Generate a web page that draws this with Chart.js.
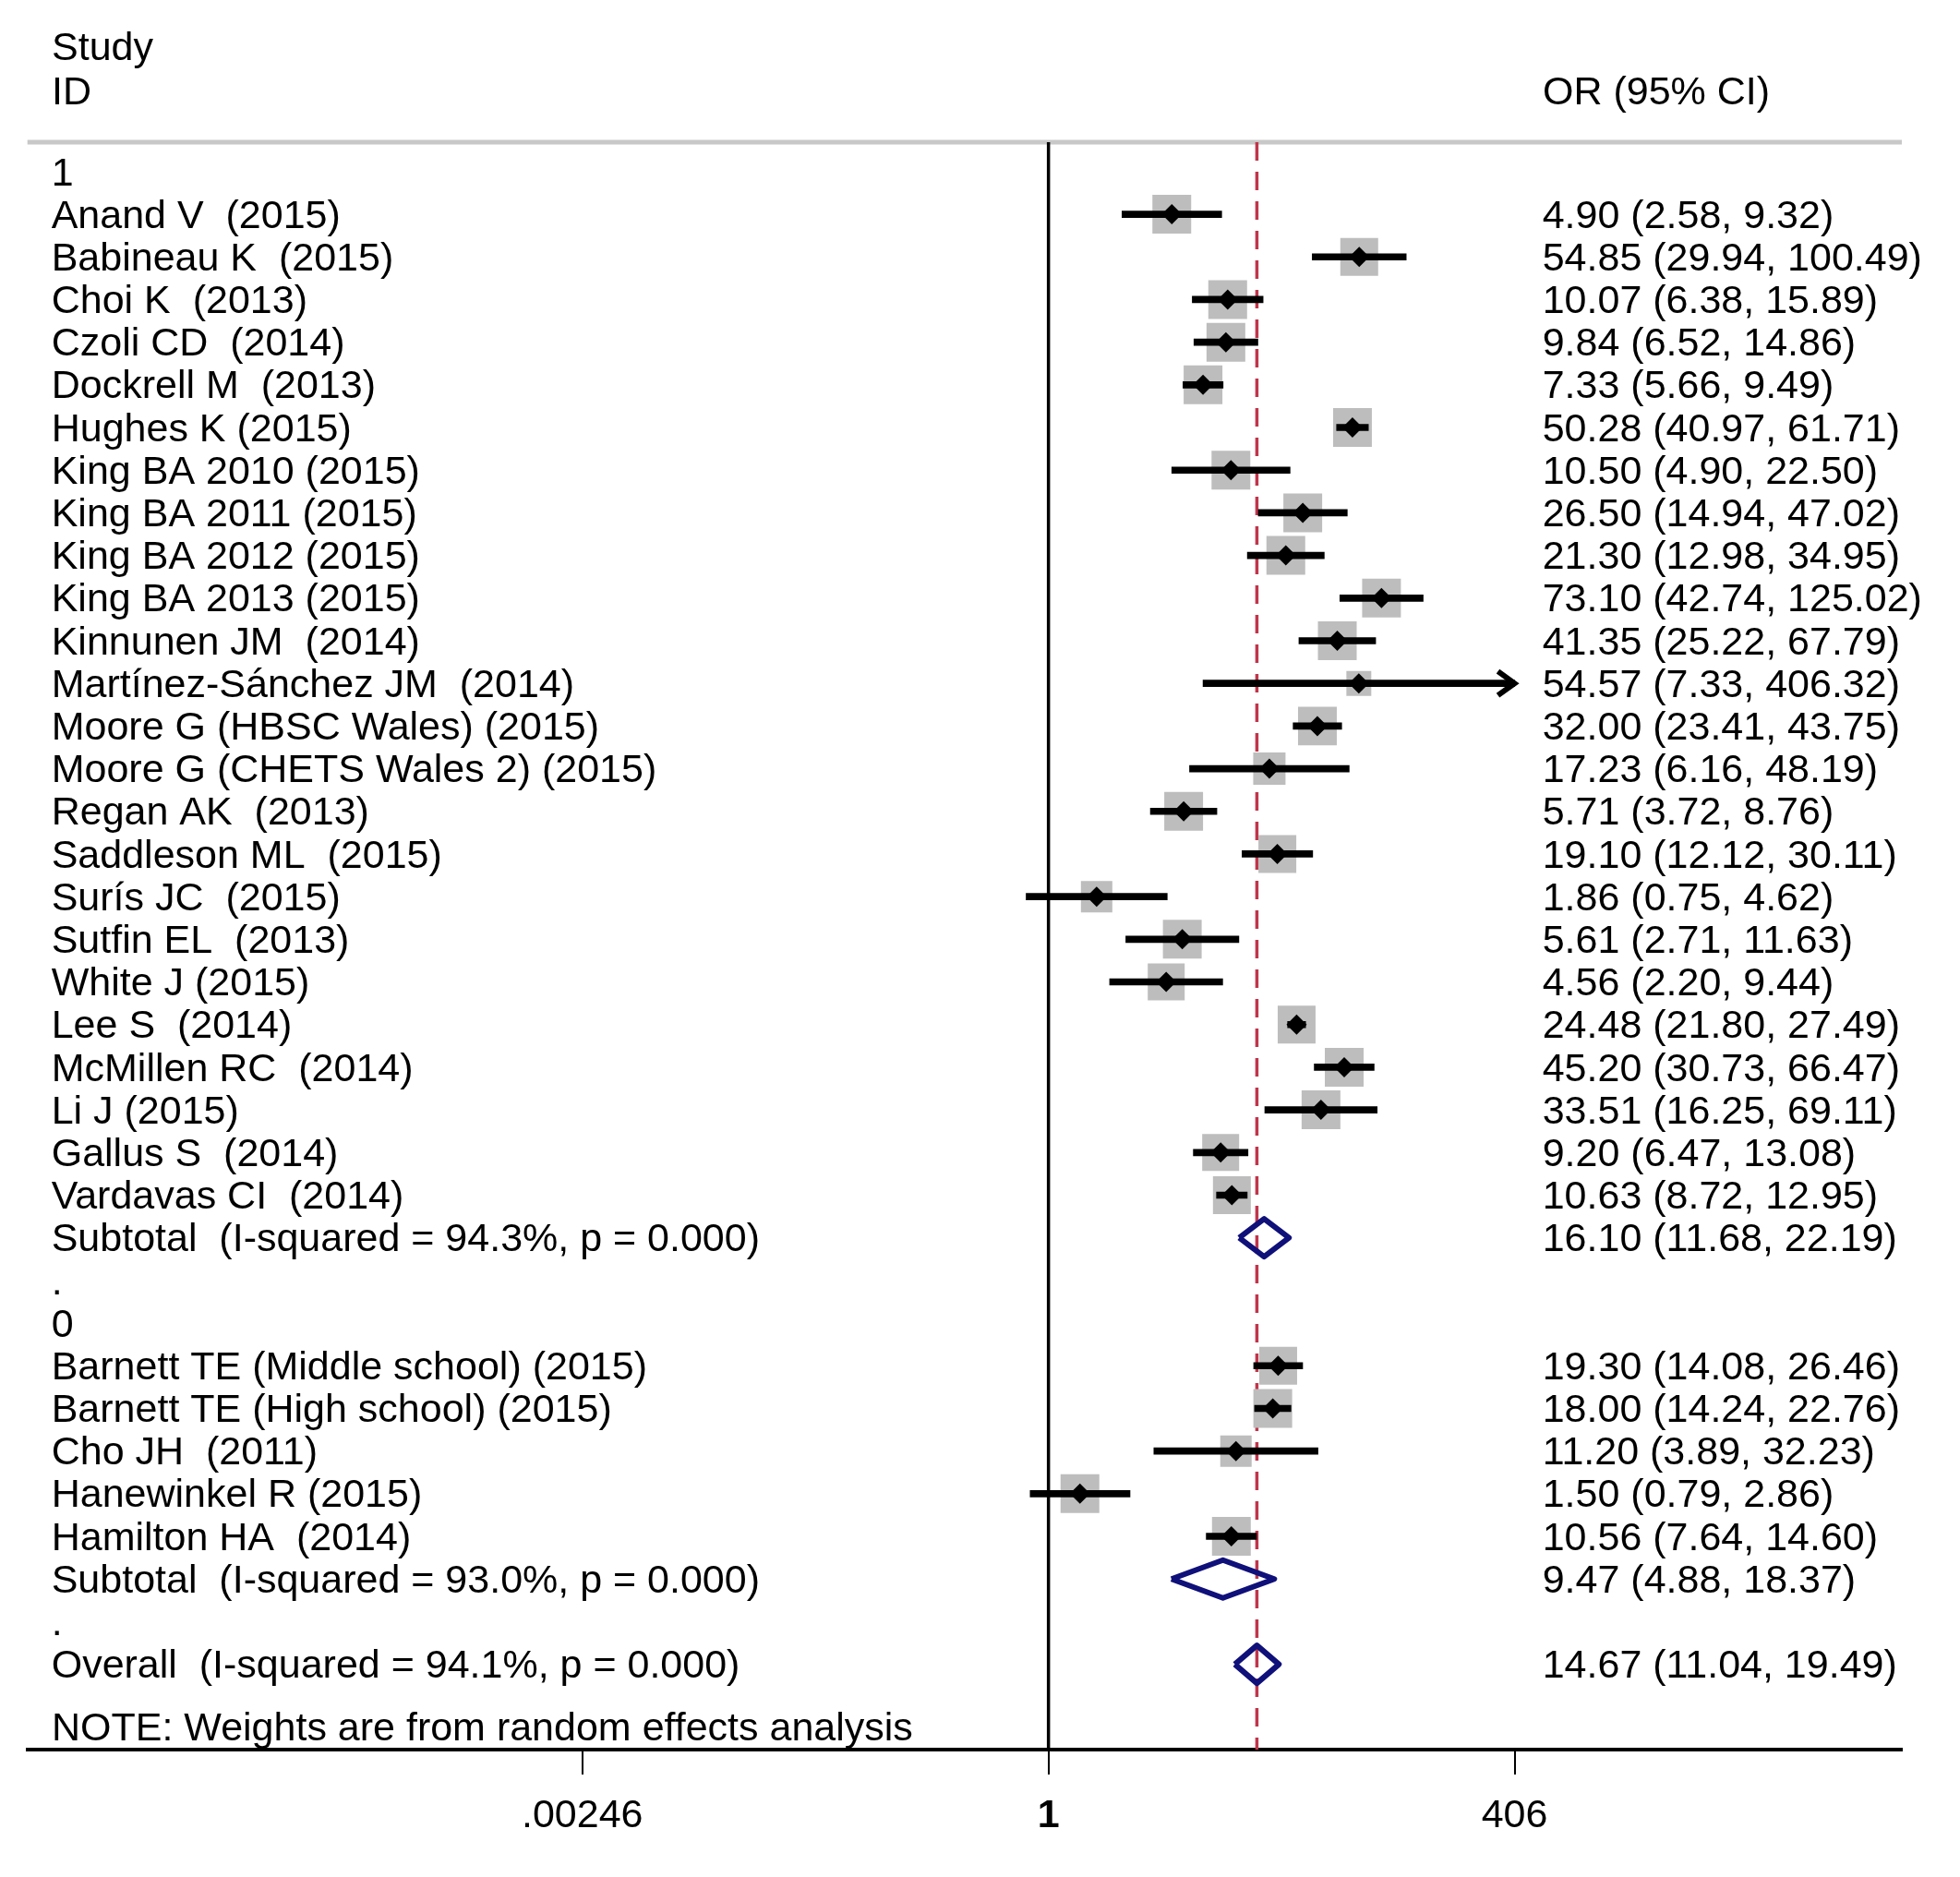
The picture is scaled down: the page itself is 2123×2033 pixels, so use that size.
<!DOCTYPE html>
<html>
<head>
<meta charset="utf-8">
<title>Forest plot</title>
<script src="https://cdn.jsdelivr.net/npm/chart.js@4.4.1/dist/chart.umd.min.js"></script>
<style>
    html, body { margin: 0; padding: 0; background: #fff; overflow: hidden; }
    #wrap { width: 2123px; height: 2033px; position: relative; }
</style>
</head>
<body>
<div id="wrap"><canvas id="forest"></canvas></div>
<script>
// left column, one entry per row from top to bottom
const rowLabels = [
    '1',
    'Anand V  (2015)',
    'Babineau K  (2015)',
    'Choi K  (2013)',
    'Czoli CD  (2014)',
    'Dockrell M  (2013)',
    'Hughes K (2015)',
    'King BA 2010 (2015)',
    'King BA 2011 (2015)',
    'King BA 2012 (2015)',
    'King BA 2013 (2015)',
    'Kinnunen JM  (2014)',
    'Martínez-Sánchez JM  (2014)',
    'Moore G (HBSC Wales) (2015)',
    'Moore G (CHETS Wales 2) (2015)',
    'Regan AK  (2013)',
    'Saddleson ML  (2015)',
    'Surís JC  (2015)',
    'Sutfin EL  (2013)',
    'White J (2015)',
    'Lee S  (2014)',
    'McMillen RC  (2014)',
    'Li J (2015)',
    'Gallus S  (2014)',
    'Vardavas CI  (2014)',
    'Subtotal  (I-squared = 94.3%, p = 0.000)',
    '.',
    '0',
    'Barnett TE (Middle school) (2015)',
    'Barnett TE (High school) (2015)',
    'Cho JH  (2011)',
    'Hanewinkel R (2015)',
    'Hamilton HA  (2014)',
    'Subtotal  (I-squared = 93.0%, p = 0.000)',
    '.',
    'Overall  (I-squared = 94.1%, p = 0.000)'
];

// single studies: row index, odds ratio, 95% CI, weight (%)
const studyRow = [1, 2, 3, 4, 5, 6, 7, 8, 9, 10, 11, 12, 13, 14, 15, 16, 17, 18, 19, 20, 21, 22, 23, 24,
    28, 29, 30, 31, 32];
const studyOR = [4.90, 54.85, 10.07, 9.84, 7.33, 50.28, 10.50, 26.50, 21.30, 73.10, 41.35, 54.57, 32.00,
    17.23, 5.71, 19.10, 1.86, 5.61, 4.56, 24.48, 45.20, 33.51, 9.20, 10.63,
    19.30, 18.00, 11.20, 1.50, 10.56];
const studyLo = [2.58, 29.94, 6.38, 6.52, 5.66, 40.97, 4.90, 14.94, 12.98, 42.74, 25.22, 7.33, 23.41,
    6.16, 3.72, 12.12, 0.75, 2.71, 2.20, 21.80, 30.73, 16.25, 6.47, 8.72,
    14.08, 14.24, 3.89, 0.79, 7.64];
const studyHi = [9.32, 100.49, 15.89, 14.86, 9.49, 61.71, 22.50, 47.02, 34.95, 125.02, 67.79, 406.32, 43.75,
    48.19, 8.76, 30.11, 4.62, 11.63, 9.44, 27.49, 66.47, 69.11, 13.08, 12.95,
    26.46, 22.76, 32.23, 2.86, 14.60];
const studyWeight = [3.66, 3.49, 3.66, 3.66, 3.66, 3.66, 3.66, 3.66, 3.66, 3.66, 3.66, 1.51, 3.66,
    2.54, 3.66, 3.49, 2.40, 3.66, 3.32, 3.49, 3.66, 3.66, 3.32, 3.49,
    3.49, 3.66, 2.40, 3.66, 3.66];

// pooled estimates (two subtotals and overall)
const poolRow = [25, 33, 35];
const poolOR = [16.10, 9.47, 14.67];
const poolLo = [11.68, 4.88, 11.04];
const poolHi = [22.19, 18.37, 19.49];

// x axis
const xTickValues = [0.00246, 1, 406];
const xTickLabels = ['.00246', '1', '406'];

const noteText = 'NOTE: Weights are from random effects analysis';

// layout constants
const FONT = "'Liberation Sans', Arial, sans-serif";
const FONT_SIZE = 43;
const X_MIN = 1.93e-6;   // the log axis runs under both text columns
const X_MAX = 5.97e4;
const Y_MIN = -0.69;
const Y_MAX = 37.0;
const LABEL_NUDGE = 0.06;
const DIAMOND_HALF = 0.444;
const BOX_PX = 21.95;    // box side per sqrt(weight)
const ARROW_LIMIT = xTickValues[xTickValues.length - 1];

// right column text built from the numbers
const fmt = (v) => v.toFixed(2);
const orLabels = rowLabels.map(() => '');
studyRow.forEach((r, i) => {
    orLabels[r] = `${fmt(studyOR[i])} (${fmt(studyLo[i])}, ${fmt(studyHi[i])})`;
});
poolRow.forEach((r, i) => {
    orLabels[r] = `${fmt(poolOR[i])} (${fmt(poolLo[i])}, ${fmt(poolHi[i])})`;
});

const overallOR = poolOR[poolOR.length - 1];

// text columns sit inside the plot, so they must not take any room
function flattenAxis(s) {
    s.width = 0;
    s.paddingTop = 0;
    s.paddingBottom = 0;
    s.paddingLeft = 0;
    s.paddingRight = 0;
}

// diamonds for pooled rows
const diamondSets = poolRow.map((r, i) => ({
    type: 'scatter',
    showLine: true,
    data: [
        { x: poolLo[i], y: r },
        { x: poolOR[i], y: r - DIAMOND_HALF },
        { x: poolHi[i], y: r },
        { x: poolOR[i], y: r + DIAMOND_HALF },
        { x: poolLo[i], y: r }
    ],
    borderColor: '#10107a',
    borderWidth: 6,
    borderJoinStyle: 'round',
    pointRadius: 0,
    fill: false,
    order: 1
}));

// extra text, header rule and arrowheads for clipped CIs
const forestExtras = {
    id: 'forestExtras',
    beforeDatasetsDraw(chart) {
        const { ctx, chartArea } = chart;
        ctx.save();
        ctx.strokeStyle = '#c8c8c8';
        ctx.lineWidth = 5;
        ctx.beginPath();
        ctx.moveTo(chartArea.left, chartArea.top);
        ctx.lineTo(chartArea.right, chartArea.top);
        ctx.stroke();
        ctx.restore();
    },
    afterDraw(chart) {
        const { ctx } = chart;
        const xs = chart.scales.x;
        const ys = chart.scales.y;
        ctx.save();
        ctx.fillStyle = '#000';
        ctx.font = `${FONT_SIZE}px ${FONT}`;
        ctx.textBaseline = 'alphabetic';
        ctx.textAlign = 'left';
        ctx.fillText('Study', 56, 65);
        ctx.fillText('ID', 56, 113);
        ctx.fillText('OR (95% CI)', 1671, 113);
        ctx.fillText(noteText, 56, 1885);

        // arrowhead where the CI runs past the last axis label
        ctx.strokeStyle = '#000';
        ctx.lineWidth = 6;
        ctx.lineJoin = 'miter';
        studyRow.forEach((r, i) => {
            if (studyHi[i] <= ARROW_LIMIT) return;
            const px = xs.getPixelForValue(ARROW_LIMIT);
            const py = ys.getPixelForValue(r);
            ctx.beginPath();
            ctx.moveTo(px - 18, py - 13);
            ctx.lineTo(px, py);
            ctx.lineTo(px - 18, py + 13);
            ctx.stroke();
        });
        ctx.restore();
    }
};

const ctx = document.getElementById('forest').getContext('2d');
new Chart(ctx, {
    type: 'scatter',
    data: {
        datasets: [
            ...diamondSets,
            {
                // point estimates
                type: 'scatter',
                data: studyRow.map((r, i) => ({ x: studyOR[i], y: r })),
                pointStyle: 'rectRot',
                pointRadius: 11,
                backgroundColor: '#000',
                borderWidth: 0,
                order: 2
            },
            {
                // confidence intervals
                type: 'bar',
                indexAxis: 'y',
                data: studyRow.map((r, i) => ({ x: [studyLo[i], Math.min(studyHi[i], ARROW_LIMIT)], y: r })),
                backgroundColor: '#000',
                borderWidth: 0,
                barThickness: 7,
                order: 3
            },
            {
                // weight boxes
                type: 'scatter',
                data: studyRow.map((r, i) => ({ x: studyOR[i], y: r })),
                pointStyle: 'rect',
                pointRadius: (c) => BOX_PX * Math.sqrt(studyWeight[c.dataIndex]) / Math.SQRT2,
                backgroundColor: '#bdbdbd',
                borderWidth: 0,
                order: 4
            },
            {
                // line of no effect
                type: 'scatter',
                showLine: true,
                data: [{ x: 1, y: Y_MIN }, { x: 1, y: Y_MAX }],
                borderColor: '#000',
                borderWidth: 3.5,
                pointRadius: 0,
                order: 6
            },
            {
                // overall estimate
                type: 'scatter',
                showLine: true,
                data: [{ x: overallOR, y: Y_MIN }, { x: overallOR, y: Y_MAX }],
                borderColor: '#c0354a',
                borderWidth: 3.5,
                borderDash: [20, 12],
                pointRadius: 0,
                order: 5
            }
        ]
    },
    options: {
        responsive: true,
        maintainAspectRatio: false,
        animation: false,
        events: [],
        layout: { padding: { left: 26, right: 63, top: 154, bottom: 0 } },
        plugins: { legend: { display: false }, tooltip: { enabled: false } },
        scales: {
            x: {
                type: 'logarithmic',
                position: 'bottom',
                min: X_MIN,
                max: X_MAX,
                afterBuildTicks: (s) => { s.ticks = xTickValues.map((v) => ({ value: v })); },
                afterFit: (s) => { s.height = 138; },
                ticks: {
                    autoSkip: false,
                    maxRotation: 0,
                    padding: 19,
                    color: '#000',
                    font: (c) => ({ family: FONT, size: FONT_SIZE, weight: c.index === 1 ? 'bold' : 'normal' }),
                    callback: (v, i) => xTickLabels[i]
                },
                grid: { drawOnChartArea: false, drawTicks: true, tickLength: 27, color: '#000', lineWidth: 2 },
                border: { display: true, color: '#000', width: 4 }
            },
            y: {
                type: 'linear',
                position: 'left',
                min: Y_MIN,
                max: Y_MAX,
                reverse: true,
                offset: false,
                afterBuildTicks: (s) => { s.ticks = rowLabels.map((_, i) => ({ value: i + LABEL_NUDGE })); },
                afterFit: flattenAxis,
                grid: { display: false, offset: false },
                border: { display: false },
                ticks: {
                    mirror: true,
                    crossAlign: 'near',
                    padding: 26,
                    autoSkip: false,
                    color: '#000',
                    font: { family: FONT, size: FONT_SIZE },
                    callback: (v, i) => rowLabels[i]
                }
            },
            yr: {
                type: 'linear',
                position: 'left',
                min: Y_MIN,
                max: Y_MAX,
                reverse: true,
                offset: false,
                afterBuildTicks: (s) => { s.ticks = orLabels.map((_, i) => ({ value: i + LABEL_NUDGE })); },
                afterFit: flattenAxis,
                grid: { display: false },
                border: { display: false },
                ticks: {
                    mirror: true,
                    crossAlign: 'near',
                    padding: 1641,
                    autoSkip: false,
                    color: '#000',
                    font: { family: FONT, size: FONT_SIZE },
                    callback: (v, i) => orLabels[i]
                }
            }
        }
    },
    plugins: [forestExtras]
});
</script>
</body>
</html>
